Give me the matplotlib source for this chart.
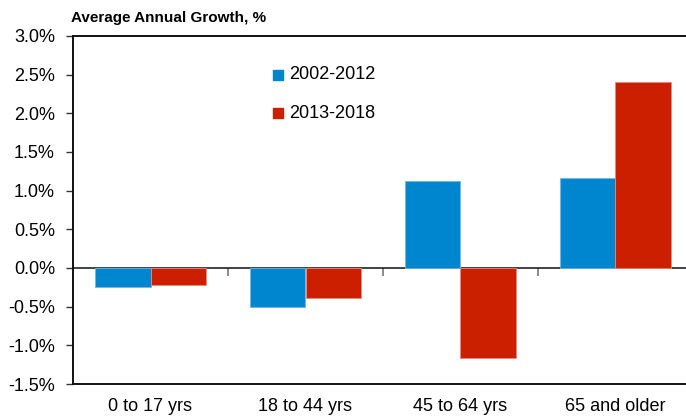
import numpy as np
import matplotlib.pyplot as plt
from matplotlib.ticker import FuncFormatter

categories = ["0 to 17 yrs", "18 to 44 yrs", "45 to 64 yrs", "65 and older"]
growth_2002_2012 = [-0.245, -0.50, 1.12, 1.16]
growth_2013_2018 = [-0.22, -0.39, -1.17, 2.41]
series_labels = ["2002-2012", "2013-2018"]

blue = "#0085CF"
red = "#CC1F00"

plt.rcParams['font.family'] = ['Liberation Sans', 'DejaVu Sans']

fig = plt.figure(figsize=(6.86, 4.19), dpi=100)
# axes runs slightly past the right edge, as in the original crop
ax = fig.add_axes([73 / 686, 35 / 419, 620 / 686, 348 / 419])

x = np.arange(len(categories))
w = 0.355
ax.bar(x - w / 2, growth_2002_2012, width=w, color=blue,
       edgecolor="#6fb8e6", linewidth=0.6)
ax.bar(x + w / 2, growth_2013_2018, width=w, color=red,
       edgecolor="#e88a7a", linewidth=0.6)

ax.set_xlim(-0.5, len(categories) - 0.5)
ax.set_ylim(-1.5, 3.0)
ax.set_yticks(np.arange(-1.5, 3.01, 0.5))
ax.yaxis.set_major_formatter(FuncFormatter(lambda v, _: f"{v:.1f}%"))
ax.tick_params(axis='y', length=5, width=1, pad=8, labelsize=13, color="#333333")

ax.set_xticks(x)
ax.set_xticklabels(categories)
ax.tick_params(axis='x', length=0, pad=10, labelsize=13)

for side in ['left', 'top', 'bottom']:
    ax.spines[side].set_color("#111111")
    ax.spines[side].set_linewidth(1.4)
ax.spines['right'].set_visible(False)

# zero line with tick marks between the categories
zero_frac = (0 - (-1.5)) / (3.0 - (-1.5))
zx = ax.secondary_xaxis(zero_frac)
zx.set_xticks(x[:-1] + 0.5)
zx.set_xticklabels([])
zx.tick_params(axis='x', direction='out', length=6, width=1.2, color="#777777")
zx.spines['bottom'].set_color("#222222")
zx.spines['bottom'].set_linewidth(1.2)

# legend drawn as coloured squares with text
for i, (lab, col) in enumerate(zip(series_labels, [blue, red])):
    ty = 2.5 - 0.5 * i
    ax.scatter([0.823], [ty], marker='s', s=55, color=col, zorder=3)
    ax.text(0.892, ty, lab, fontsize=13, va='center', ha='left')

fig.text(71 / 686, 1 - 18 / 419, "Average Annual Growth, %", fontsize=11,
         fontweight='bold', va='center', ha='left')

fig.savefig("out.png", dpi=100)
